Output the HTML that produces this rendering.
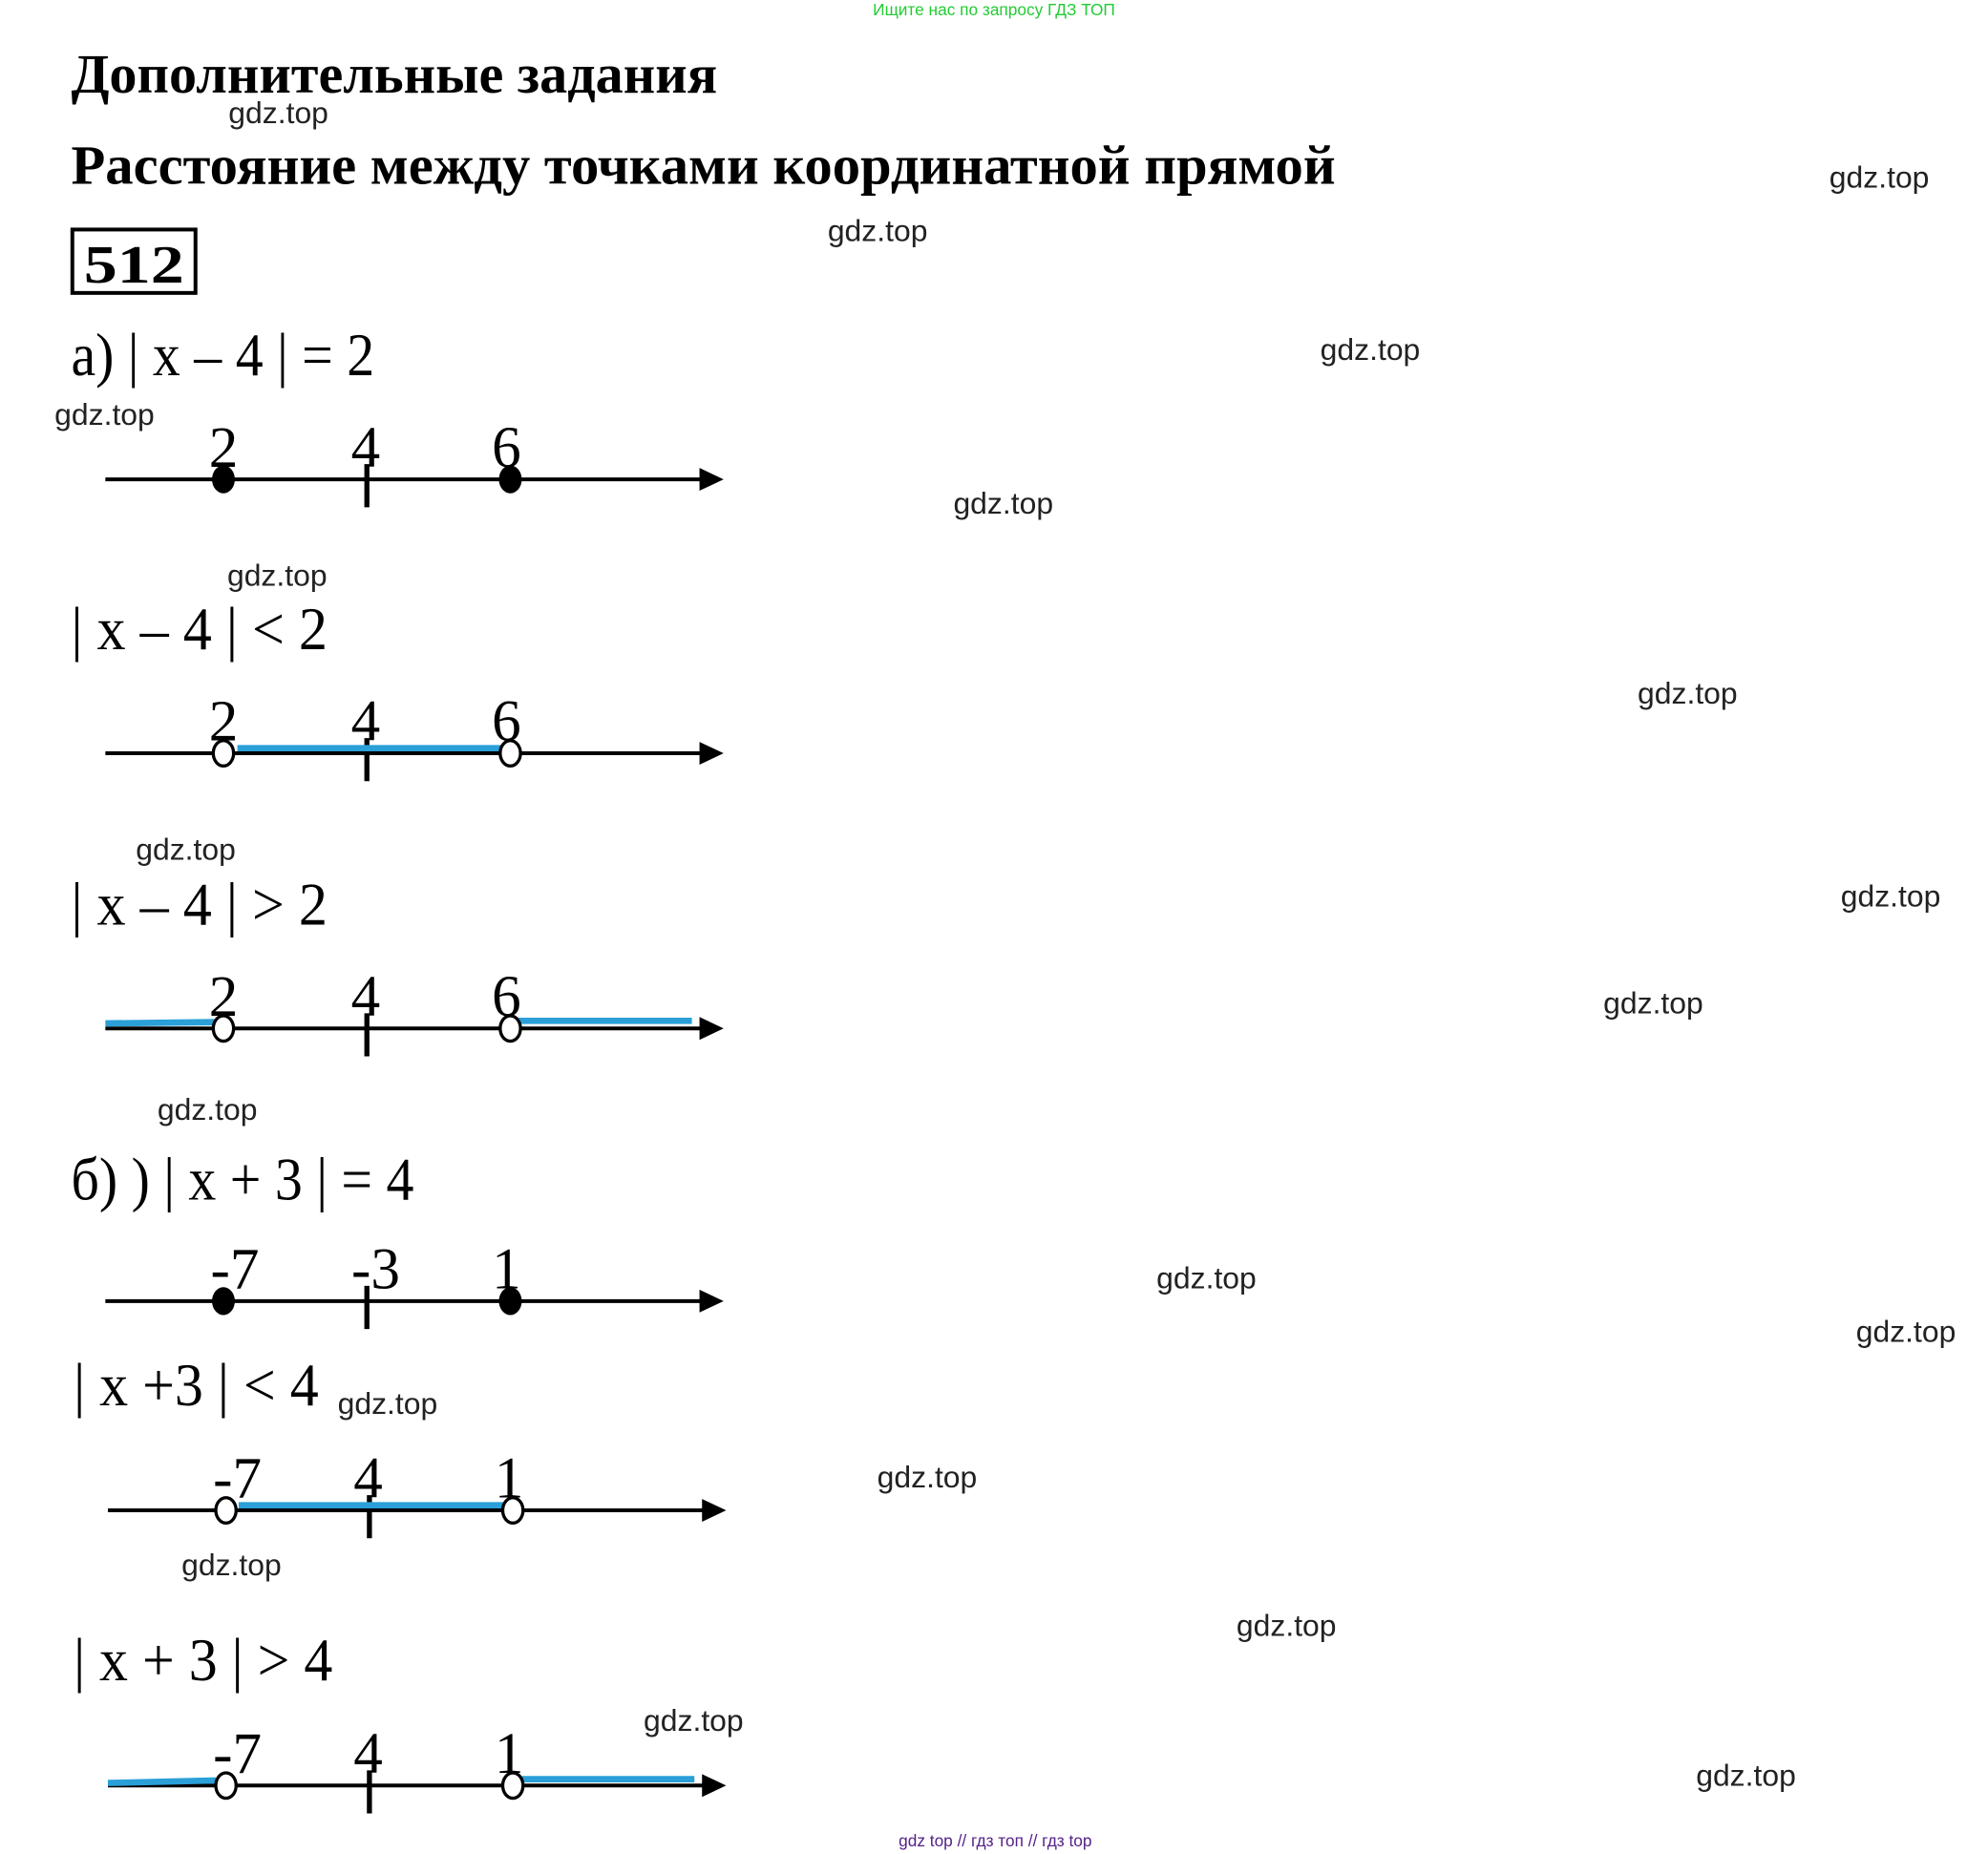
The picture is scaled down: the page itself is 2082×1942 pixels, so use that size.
<!DOCTYPE html>
<html><head><meta charset="utf-8"><style>
html,body{margin:0;padding:0;background:#fff;}
svg{display:block;}
.t{font-family:"Liberation Serif","DejaVu Serif",serif;}
.w{font-family:"Liberation Sans","DejaVu Sans",sans-serif;font-size:24px;fill:#222;}
</style></head><body>
<svg width="2082" height="1942" viewBox="0 0 1566 1462" preserveAspectRatio="none" xmlns="http://www.w3.org/2000/svg">
<defs>
<g id="ax"><line x1="0" y1="0" x2="475" y2="0" stroke="#000" stroke-width="3"/><polygon points="468,-9 487,0 468,9" fill="#000"/><line x1="206" y1="-12" x2="206" y2="22" stroke="#000" stroke-width="4"/></g>
</defs>
<text x="783" y="12" text-anchor="middle" font-family="Liberation Sans,sans-serif" font-size="13" fill="#22cc33">Ищите нас по запросу ГДЗ ТОП</text>
<text class="t" x="56" y="73" font-size="44" font-weight="bold" textLength="509" lengthAdjust="spacingAndGlyphs">Дополнительные задания</text>
<text class="t" x="56" y="145" font-size="44" font-weight="bold" textLength="996" lengthAdjust="spacingAndGlyphs">Расстояние между точками координатной прямой</text>
<rect x="57" y="181" width="97" height="50" fill="none" stroke="#000" stroke-width="3"/>
<text class="t" x="66" y="223" font-size="42" font-weight="bold" textLength="79" lengthAdjust="spacingAndGlyphs">512</text>

<g class="t" font-size="48">
<text x="56" y="296" textLength="239" lengthAdjust="spacingAndGlyphs">а) | x – 4 | = 2</text>
<text x="56" y="512" textLength="202" lengthAdjust="spacingAndGlyphs">| x – 4 | &lt; 2</text>
<text x="56" y="729" textLength="202" lengthAdjust="spacingAndGlyphs">| x – 4 | &gt; 2</text>
<text x="56" y="946" textLength="270" lengthAdjust="spacingAndGlyphs">б) ) | x + 3 | = 4</text>
<text x="58" y="1108" textLength="193" lengthAdjust="spacingAndGlyphs">| x +3 | &lt; 4</text>
<text x="58" y="1325" textLength="204" lengthAdjust="spacingAndGlyphs">| x + 3 | &gt; 4</text>
</g>

<g class="t" font-size="46" text-anchor="middle">
<use href="#ax" x="83" y="378"/>
<ellipse cx="176" cy="378" rx="9" ry="11"/><ellipse cx="402" cy="378" rx="9" ry="11"/>
<text x="176" y="368">2</text><text x="288" y="368">4</text><text x="399" y="368">6</text>

<use href="#ax" x="83" y="594"/>
<line x1="187" y1="590" x2="400" y2="590" stroke="#2a9fd8" stroke-width="5"/>
<ellipse cx="176" cy="594" rx="8" ry="10" fill="#fff" stroke="#000" stroke-width="2.5"/><ellipse cx="402" cy="594" rx="8" ry="10" fill="#fff" stroke="#000" stroke-width="2.5"/>
<text x="176" y="584">2</text><text x="288" y="584">4</text><text x="399" y="584">6</text>

<use href="#ax" x="83" y="811"/>
<line x1="83" y1="807" x2="170" y2="806" stroke="#2a9fd8" stroke-width="5"/>
<line x1="408" y1="805" x2="545" y2="805" stroke="#2a9fd8" stroke-width="5"/>
<ellipse cx="176" cy="811" rx="8" ry="10" fill="#fff" stroke="#000" stroke-width="2.5"/><ellipse cx="402" cy="811" rx="8" ry="10" fill="#fff" stroke="#000" stroke-width="2.5"/>
<text x="176" y="801">2</text><text x="288" y="801">4</text><text x="399" y="801">6</text>

<use href="#ax" x="83" y="1026"/>
<ellipse cx="176" cy="1026" rx="9" ry="11"/><ellipse cx="402" cy="1026" rx="9" ry="11"/>
<text x="185" y="1016">-7</text><text x="296" y="1016">-3</text><text x="399" y="1016">1</text>

<use href="#ax" x="85" y="1191"/>
<line x1="188" y1="1187" x2="402" y2="1187" stroke="#2a9fd8" stroke-width="5"/>
<ellipse cx="178" cy="1191" rx="8" ry="10" fill="#fff" stroke="#000" stroke-width="2.5"/><ellipse cx="404" cy="1191" rx="8" ry="10" fill="#fff" stroke="#000" stroke-width="2.5"/>
<text x="187" y="1181">-7</text><text x="290" y="1181">4</text><text x="401" y="1181">1</text>

<use href="#ax" x="85" y="1408"/>
<line x1="85" y1="1406" x2="170" y2="1404" stroke="#2a9fd8" stroke-width="5"/>
<line x1="410" y1="1403" x2="547" y2="1403" stroke="#2a9fd8" stroke-width="5"/>
<ellipse cx="178" cy="1408" rx="8" ry="10" fill="#fff" stroke="#000" stroke-width="2.5"/><ellipse cx="404" cy="1408" rx="8" ry="10" fill="#fff" stroke="#000" stroke-width="2.5"/>
<text x="187" y="1398">-7</text><text x="290" y="1398">4</text><text x="401" y="1398">1</text>
</g>

<g class="w">
<text x="180" y="97">gdz.top</text>
<text x="1441" y="148">gdz.top</text>
<text x="652" y="190">gdz.top</text>
<text x="1040" y="284">gdz.top</text>
<text x="43" y="335">gdz.top</text>
<text x="751" y="405">gdz.top</text>
<text x="179" y="462">gdz.top</text>
<text x="1290" y="555">gdz.top</text>
<text x="107" y="678">gdz.top</text>
<text x="1450" y="715">gdz.top</text>
<text x="1263" y="799">gdz.top</text>
<text x="124" y="883">gdz.top</text>
<text x="911" y="1016">gdz.top</text>
<text x="1462" y="1058">gdz.top</text>
<text x="266" y="1115">gdz.top</text>
<text x="691" y="1173">gdz.top</text>
<text x="143" y="1242">gdz.top</text>
<text x="974" y="1290">gdz.top</text>
<text x="507" y="1365">gdz.top</text>
<text x="1336" y="1408">gdz.top</text>
</g>
<text x="784" y="1456" text-anchor="middle" font-family="Liberation Sans,sans-serif" font-size="13" fill="#552288">gdz top  //  гдз топ  //  гдз top</text>
</svg>
</body></html>
